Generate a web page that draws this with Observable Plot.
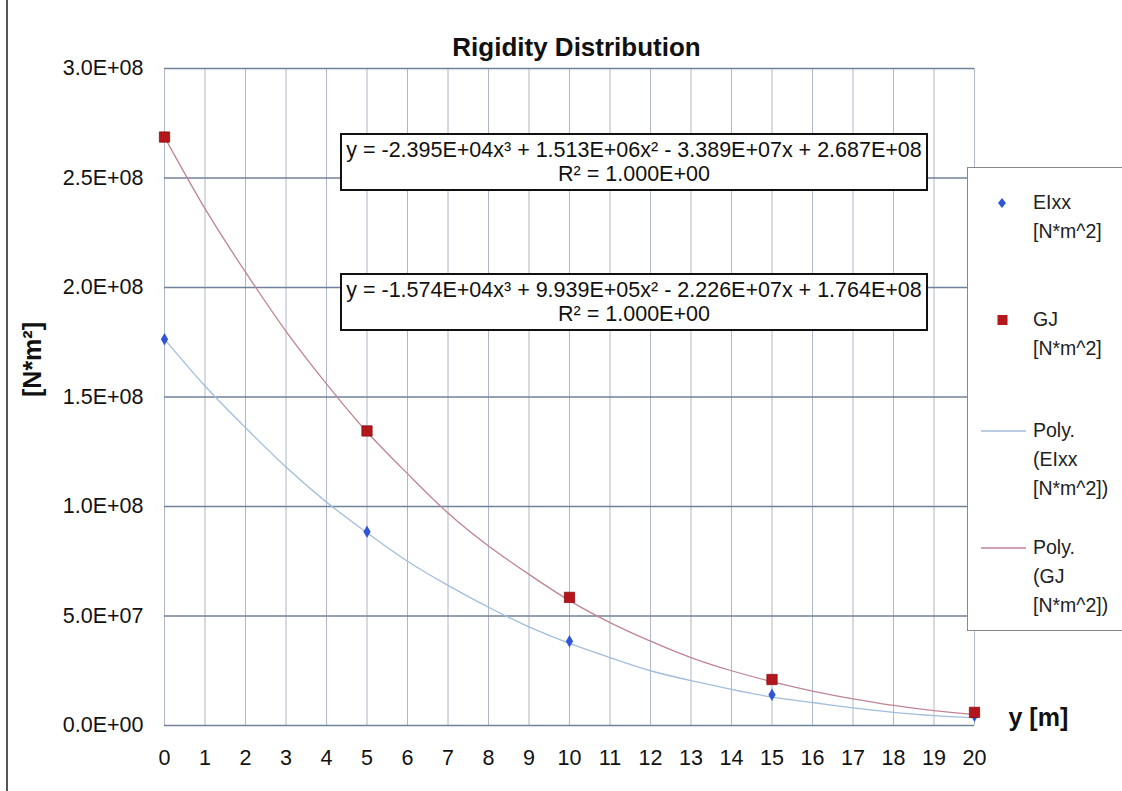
<!DOCTYPE html>
<html><head><meta charset="utf-8">
<script src="https://cdn.jsdelivr.net/npm/d3@7"></script>
<script src="https://cdn.jsdelivr.net/npm/@observablehq/plot@0.6"></script>
<style>
body{margin:0;background:#fff;}
#wrap{position:relative;width:1122px;height:791px;overflow:hidden;font-family:'Liberation Sans',Arial,sans-serif;background:#fff;}
#wrap svg{position:absolute;left:0;top:0;}
.frameL{position:absolute;left:6px;top:0;width:2px;height:791px;background:#555;}
.eq{position:absolute;left:340px;width:584px;height:51px;border:2px solid #111;background:#fff;text-align:center;font-size:21.5px;line-height:24px;padding-top:3px;color:#111;}
#legend{position:absolute;left:967px;top:167px;width:170px;height:462px;border:1px solid #888;background:#fff;}
.li{position:absolute;left:65px;font-size:19.5px;line-height:29px;color:#222;}
.sw{position:absolute;}
</style></head>
<body><div id="wrap"><div class="frameL"></div></div>
<script>
// ---- data ----
const spanY = [0, 5, 10, 15, 20];                       // y [m]
const eixxValues = [176.4e6, 88.5e6, 38.5e6, 14.0e6, 4.5e6];  // EIxx [N*m^2]
const gjValues   = [268.7e6, 134.5e6, 58.5e6, 21.0e6, 6.0e6]; // GJ [N*m^2]
// polynomial trendlines as drawn (read at every metre)
const trendY = [0,1,2,3,4,5,6,7,8,9,10,11,12,13,14,15,16,17,18,19,20];
const eixxTrend = [176.4e6,155e6,136e6,118e6,102e6,88e6,75e6,64e6,54e6,45e6,37.5e6,31e6,25e6,20.5e6,16.5e6,13e6,10.5e6,8e6,6e6,4.5e6,3.5e6];
const gjTrend   = [268.7e6,236e6,207e6,180e6,156e6,134e6,115e6,97e6,82e6,69e6,57e6,47e6,38.5e6,31e6,25e6,20e6,15.7e6,12.2e6,9.2e6,6.8e6,5e6];
const xTicks = [0,1,2,3,4,5,6,7,8,9,10,11,12,13,14,15,16,17,18,19,20];
const yTicks = [0, 5e7, 1e8, 1.5e8, 2e8, 2.5e8, 3e8];
const titleText = "Rigidity Distribution";
const yLabel = "[N*m²]";
const xLabel = "y [m]";
const eqGJ = ["y = -2.395E+04x³ + 1.513E+06x² - 3.389E+07x + 2.687E+08", "R² = 1.000E+00"];
const eqEI = ["y = -1.574E+04x³ + 9.939E+05x² - 2.226E+07x + 1.764E+08", "R² = 1.000E+00"];
const legendItems = [
  {kind:"diamond", lines:["EIxx","[N*m^2]"]},
  {kind:"square", lines:["GJ","[N*m^2]"]},
  {kind:"lineEI", lines:["Poly.","(EIxx","[N*m^2])"]},
  {kind:"lineGJ", lines:["Poly.","(GJ","[N*m^2])"]}
];
const C = {ei:"#2f56d6", gj:"#b3161b", eiLine:"#a3bddc", gjLine:"#bf8593"};

const eiPts = spanY.map((x,i)=>({x, v:eixxValues[i]}));
const gjPts = spanY.map((x,i)=>({x, v:gjValues[i]}));
const eiTr = trendY.map((x,i)=>({x, v:eixxTrend[i]}));
const gjTr = trendY.map((x,i)=>({x, v:gjTrend[i]}));
const fmt = v => v.toExponential(1).toUpperCase().replace(/E([+-])(\d)$/, "E$10$2");

const plot = Plot.plot({
  width: 1122, height: 791,
  marginLeft: 164, marginRight: 148, marginTop: 68, marginBottom: 66,
  style: {fontFamily: "'Liberation Sans', Arial, sans-serif", fontSize: "21px", background: "transparent", color: "#111"},
  x: {domain: [0, 20]},
  y: {domain: [0, 3e8]},
  marks: [
    Plot.gridX(xTicks, {stroke: "#aeb8c7", strokeOpacity: 1, strokeWidth: 1}),
    Plot.gridY(yTicks, {stroke: "#6f8299", strokeOpacity: 1, strokeWidth: 1.3}),
    Plot.line(eiTr, {x: "x", y: "v", stroke: C.eiLine, strokeWidth: 1.3, curve: "natural"}),
    Plot.line(gjTr, {x: "x", y: "v", stroke: C.gjLine, strokeWidth: 1.3, curve: "natural"}),
    Plot.dot(eiPts, {x: "x", y: "v", symbol: "diamond", r: 3.8, fill: C.ei}),
    Plot.dot(gjPts, {x: "x", y: "v", symbol: "square", r: 5.8, fill: C.gj, stroke: "#8e0f12", strokeWidth: 0.8}),
    Plot.axisX({ticks: xTicks, tickSize: 0, tickPadding: 24, label: null, fontSize: 21.5, tickFormat: d => String(d)}),
    Plot.axisY({ticks: yTicks, tickSize: 0, tickPadding: 21, label: null, fontSize: 21.5, tickFormat: fmt}),
    Plot.text([titleText], {frameAnchor: "top", dy: -31, dx: 7, fontSize: 26, fontWeight: "bold", fill: "#111"}),
    Plot.text([yLabel], {frameAnchor: "left", dx: -132, dy: 0, rotate: -90, fontSize: 25, fontWeight: "bold", fill: "#111"}),
    Plot.text([xLabel], {frameAnchor: "bottom-right", dx: 34, textAnchor: "start", fontSize: 25, fontWeight: "bold", fill: "#111"})
  ]
});
const wrap = document.getElementById("wrap");
wrap.appendChild(plot);

function eqBox(lines, top){
  const d = document.createElement("div");
  d.className = "eq"; d.style.top = top + "px";
  d.innerHTML = lines.map(l => `<div>${l}</div>`).join("");
  wrap.appendChild(d);
}
eqBox(eqGJ, 133);
eqBox(eqEI, 273);

const lg = document.createElement("div"); lg.id = "legend"; wrap.appendChild(lg);
const tops = [20, 137, 248, 365];
legendItems.forEach((it, i) => {
  const t = tops[i];
  const txt = document.createElement("div");
  txt.className = "li"; txt.style.top = t + "px";
  txt.innerHTML = it.lines.join("<br>");
  lg.appendChild(txt);
  const s = document.createElementNS("http://www.w3.org/2000/svg","svg");
  s.setAttribute("class","sw"); s.setAttribute("width","50"); s.setAttribute("height","20");
  s.style.left = "10px"; s.style.top = (t + 5) + "px";
  let inner = "";
  if (it.kind === "diamond") inner = `<path d="M24,5 L28,10 L24,15 L20,10Z" fill="${C.ei}"/>`;
  else if (it.kind === "square") inner = `<rect x="19.5" y="5" width="10" height="10" fill="${C.gj}"/>`;
  else inner = `<line x1="3" x2="48" y1="10" y2="10" stroke="${it.kind==="lineEI"?C.eiLine:C.gjLine}" stroke-width="1.5"/>`;
  s.innerHTML = inner;
  lg.appendChild(s);
});
</script></body></html>
